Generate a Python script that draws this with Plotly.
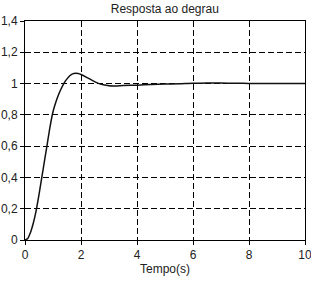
import plotly.graph_objects as go

t = [0, 0.1, 0.2, 0.3, 0.4, 0.5, 0.6, 0.7, 0.8, 0.9, 1.0, 1.1, 1.2, 1.3, 1.4, 1.5,
     1.6, 1.7, 1.8, 1.9, 2.0, 2.2, 2.4, 2.6, 2.8, 3.0, 3.2, 3.5, 4.0, 4.5, 5.0,
     5.5, 6.0, 6.5, 7.0, 7.5, 8.0, 9.0, 10.0]
y = [0, 0.01, 0.05, 0.11, 0.19, 0.29, 0.40, 0.51, 0.62, 0.73, 0.82, 0.88, 0.93,
     0.97, 1.005, 1.03, 1.05, 1.062, 1.066, 1.064, 1.058, 1.04, 1.02, 1.003,
     0.992, 0.986, 0.985, 0.987, 0.99, 0.994, 0.997, 0.999, 1.002, 1.003, 1.003,
     1.002, 1.001, 1.0, 1.0]

x_ticks = [0, 2, 4, 6, 8, 10]
x_labels = ["0", "2", "4", "6", "8", "10"]
y_ticks = [0, 0.2, 0.4, 0.6, 0.8, 1.0, 1.2, 1.4]
y_labels = ["0", "0,2", "0,4", "0,6", "0,8", "1", "1,2", "1,4"]

font = dict(family="Liberation Sans, Arial, sans-serif", size=12, color="#222222")

fig = go.Figure()
fig.add_trace(go.Scatter(x=t, y=y, mode="lines",
                         line=dict(color="#111111", width=1.5, shape="spline", smoothing=0.8),
                         showlegend=False, hoverinfo="skip"))

axis_common = dict(showline=True, linecolor="black", linewidth=1, mirror=True,
                   showgrid=True, gridcolor="black", gridwidth=1, griddash="6px,3px",
                   ticks="outside", ticklen=4, tickcolor="black", zeroline=False,
                   automargin=False, ticklabeloverflow="allow", tickfont=font)

fig.update_xaxes(range=[0, 10], tickvals=x_ticks, ticktext=x_labels,
                 title=dict(text="Tempo(s)", standoff=2, font=font),
                 **axis_common)
fig.update_yaxes(range=[0, 1.4], tickvals=y_ticks, ticktext=y_labels, ticklabelstandoff=0,
                 **axis_common)

fig.update_layout(
    width=311, height=281,
    margin=dict(l=25, r=6, t=21, b=41),
    paper_bgcolor="white", plot_bgcolor="white",
    title=dict(text="Resposta ao degrau", x=0.53, xanchor="center", y=0.985, yanchor="top",
               font=font),
)

fig.write_html("out.html")
